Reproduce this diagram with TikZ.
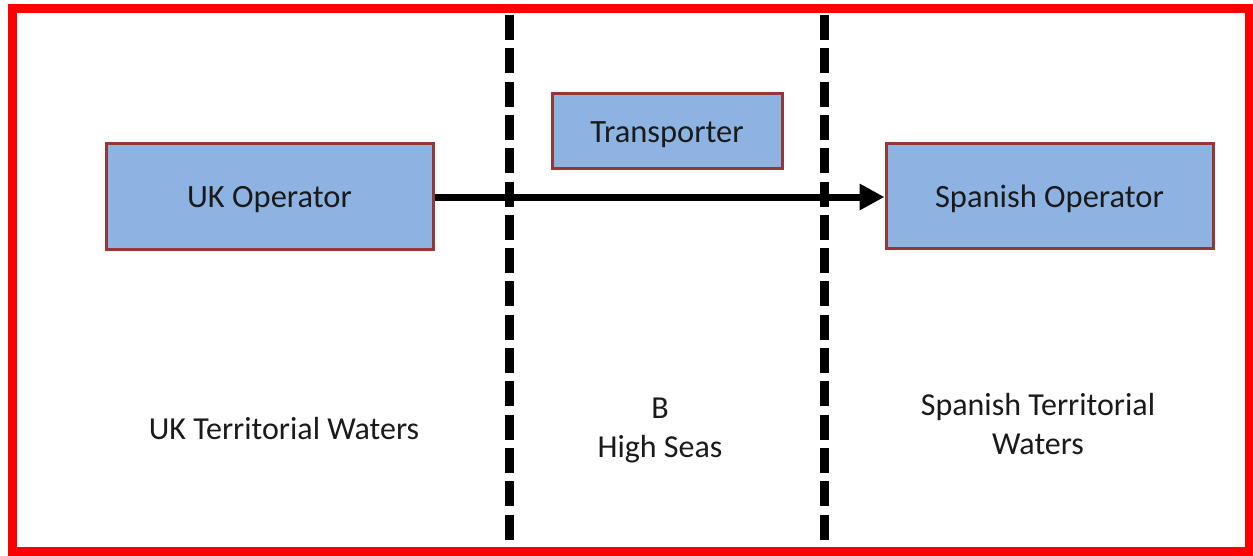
\documentclass[tikz,border=0pt]{standalone}
\usepackage{fontspec}
\setmainfont{Carlito}
\usetikzlibrary{arrows.meta}
\definecolor{boxfill}{HTML}{8DB3E2}
\definecolor{boxline}{HTML}{953735}
\definecolor{txt}{HTML}{1A1A1A}
\tikzset{
  opbox/.style={draw=boxline, line width=3pt, fill=boxfill, inner sep=0pt, text=txt,
    text height=28pt, text depth=5pt,
    font=\fontsize{32.5}{39}\selectfont},
  zone/.style={text=txt, align=center, font=\fontsize{32}{39}\selectfont},
  divider/.style={line width=9pt, dash pattern=on 25pt off 8.3pt},
  flow/.style={line width=7pt, -{Triangle[length=25pt,width=25pt]}}
}
\begin{document}
\begin{tikzpicture}[x=1pt,y=-1pt]
\useasboundingbox (0,0) rectangle (1253,555);
\fill[white] (0,0) rectangle (1253,555);
% dashed dividers
\coordinate (d1t) at (509.5,15);
\coordinate (d1b) at (509.5,551);
\coordinate (d2t) at (824,15);
\coordinate (d2b) at (824,551);
\draw[divider] (d1t) -- (d1b);
\draw[divider] (d2t) -- (d2b);
% boxes
\node[opbox, minimum width=327pt, minimum height=106pt] (uk) at (269.5,196) {UK Operator};
\node[opbox, minimum width=230pt, minimum height=75pt] (tr) at (667,130.5) {Transporter};
\node[opbox, minimum width=327pt, minimum height=105pt] (sp) at (1049.5,195.5) {Spanish Operator};
% arrow
\draw[flow] (uk.east |- 0,197) -- (sp.west |- 0,197);
% zone labels
\node[zone] (ukz) at (284,428) {UK Territorial Waters};
\node[zone] (hs) at (660,430) {B\\High Seas};
\node[zone] (spz) at (1038,424) {Spanish Territorial\\Waters};
% red frame
\draw[red, line width=9pt] (12.5,8) rectangle (1249,551);
\end{tikzpicture}
\end{document}
